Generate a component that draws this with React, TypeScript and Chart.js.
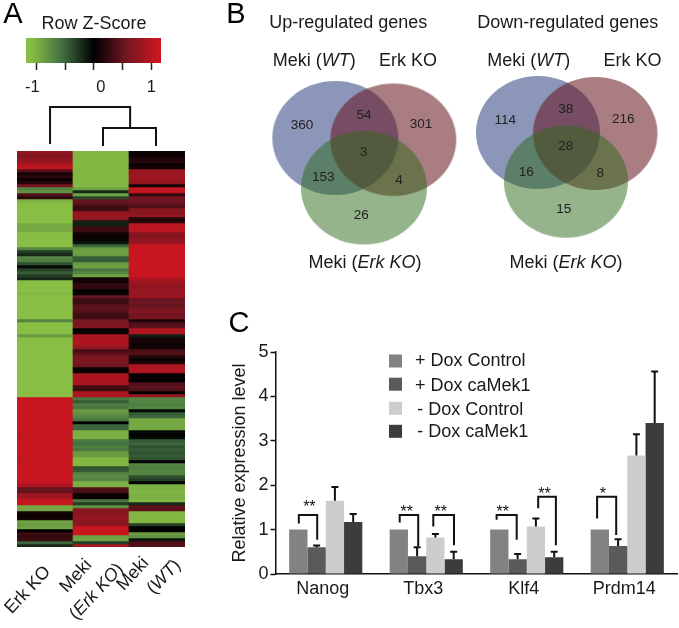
import React, { useEffect, useRef } from "react";
import { Chart, registerables } from "chart.js";

Chart.register(...registerables);

const W = 679;
const H = 628;
const FONT = '"Liberation Sans", Arial, sans-serif';

// ---------- Heatmap ----------
const HEAT_COLUMNS = ["Erk KO", "Meki (Erk KO)", "Meki (WT)"];
const ERK_KO = [
  0.75, 0.65, 0.75, 0.8, 0.95, 1.05, 0.45, 0.1, 0.2, 0.05, 0.2, 0.6, -0.7, -0.8, 0.4, 0.2,
  -1.0, -1.1, -1.1, -1.1, -1.1, -1.1, -1.1, -1.1, -0.95, -0.95, -0.95, -1.1, -1.1, -1.1, -1.1, -1.1,
  -0.7, -0.3, -0.2, -0.7, -0.65, -0.4, -0.05, -0.3, -0.45, -0.3, -0.2,
  -1.1, -1.1, -1.1, -1.1, -1.05, -1.1, -1.1, -1.1, -1.1, -1.1, -1.1, -1.1, -1.1,
  -0.7, -1.1, -1.1, -1.1, -1.1, -0.85,
  -1.1, -1.1, -1.1, -1.1, -1.1, -1.1, -1.1, -1.1, -1.1, -1.1, -1.1, -1.1, -1.1, -1.1, -1.1, -1.1, -1.1, -1.1, -1.1, -1.1,
  1.15, 1.15, 1.1, 1.15, 1.15, 1.1, 1.15, 1.15, 1.15, 1.1, 1.15, 1.15, 1.05, 1.1, 1.15, 1.15, 1.1, 1.15, 1.15, 1.15, 1.05, 1.1, 1.15, 1.15, 1.15, 1.1, 1.15, 1.15, 1.05, 0.9,
  0.5, 0.5, 0.85, 0.85, 1.1, 1.1, -0.95, -0.95, 0.1, 0.05, 0.1, -0.9, -0.85, -0.9, 0, 0.3, 0.25, 0.3, -0.5, -0.2,
];
const MEKI_ERK_KO = [
  -1.05, -1.05, -1.05, -1.05, -1.05, -1.05, -1.05, -1.05, -1.05, -1.05, -1.05, -1.05,
  -0.9, -0.2, -0.9, -0.35, 0.5, 0.45, 0.3, 0.3, 0.8, 0.8, 0.75, -0.15, -0.15, 0.3, 0.3, 0.1, 0.05, 0.05, -0.1, -0.5,
  -0.85, -0.9, -0.85, -0.45, -0.45, -0.85, -0.9, -0.6, -0.7, -0.9, 0.1, 0.1, 0.25, 0.25, 0, 0.05, 0.5, 0.3, 0.3,
  0.45, 0.45, 0.4, 0.3, 0.3, 0.6, 0.6, 0.65, 0, 0.05, 0.9, 0.9, 0.95, 0.9, 0.75, 0.35, 0.45, 0.6, 0.65, 0.6, 0.55,
  0.05, 0.05, 0.9, 0.95, 0.9, 0.9, 0.35, 0.3, 0.95, 0.95,
  -0.6, -0.45, -0.65, -0.6, -0.85, -0.8, -0.7, -0.6, 0, -0.5, -0.5, -1.0, -1.0, -1.0, -0.6, -0.55, -0.65, -0.6,
  -0.85, -0.85, -1.05, -1.05, -1.05, -0.4, -0.45, -0.7, -0.75, -0.7, -1.0, -1.0,
  0.4, 0.35, 0.05, 0.05, -0.6, -0.3, -0.8, 0.7, 0.7, 0.75, 0.75, 0.7, 0.75, 1.1, 1.1, 1.1, -0.9, -0.9, -0.3, 0.9,
];
const MEKI_WT = [
  0.05, 0.05, 0.15, 0.2, 0.05, 0.1, 0.8, 0.8, 0.85, 0.8, 0.75, 0.1, 1.05, 1.05, 0.25, 0.55, 0.55, 0.5, 0.4,
  0.7, 0.7, 0.75, 0.15, 0.2, 1.0, 1.05, 1.0, 0.7, 0.7, 0.75, 0.8,
  1.15, 1.15, 1.15, 1.15, 1.15, 1.15, 1.15, 1.15, 1.15, 1.15, 1.15,
  0.95, 0.85, 0.75, 0.75, 0.8, 0.75, 0.8, 0.5, 0.55, 0.5, 0.6, 0.65, 0.55, 0.6, 0.15, 0.4, 0.45, 0.95, 0.95,
  -0.15, 0.1, 0.1, 0.05, 0.1, 0.35, 0.4, 0.15, 0.05, 0.15, 0.9, 0.95, 0.95, 0, 0.05, 0, 0.4, 0.45, 0.4, 0, 0.8,
  -0.7, -0.7, -0.65, -0.7, -0.05, -0.45, -0.5, -0.95, -0.95, -0.95, -0.95, -0.05, 0, -0.05,
  -0.45, -0.5, -0.4, -0.45, -0.4, -0.45, -0.4, 0, -0.7, -0.65, -0.7, -0.7, -0.4, -0.3, 0,
  -1.0, -1.0, -1.05, -1.0, -1.0, -1.05, -0.2, 0.45, 0.45, -1.05, -1.05, -1.05, -1.05, -0.3, 0, 0, -0.85, -0.8, -0.1, 0.4, 0.4,
];
const COLORBAR_RANGE = [-1.18, 1.17];
const COLORBAR_LABELS = [-1, 0, 1];
const DENDRO_TOP = [[0.59, 0.12], [0.59, 0.86], [2.02, 0.86], [2.02, 0.44]];
const DENDRO_INNER = [[1.536, 0.08], [1.536, 0.44], [2.482, 0.44], [2.482, 0.08]];
const ROTATED_LABELS: [string, string | null, number, number][] = [
  ["Erk KO", null, 28, 590],
  ["Meki", null, 76, 576],
  ["", "Erk KO", 96.7, 591.7],
  ["Meki", null, 133, 574],
  ["", "WT", 164, 577],
];

// ---------- Venn ----------
const VENN_SETS = ["Meki (WT)", "Erk KO", "Meki (Erk KO)"];
const VENN_COLORS = ["rgba(45,64,127,0.55)", "rgba(100,18,27,0.55)", "rgba(46,106,26,0.5)"];
const UP_SETS = [
  [75.3, 68, 63, 57],
  [133.3, 69.7, 63, 56.3],
  [104, 117.7, 63, 56.7],
];
const DOWN_SETS = [
  [68, 62.5, 62, 56.5],
  [125.2, 63.5, 62.2, 56.5],
  [96, 111.7, 62, 56],
];
const UP_COUNTS = [360, 54, 301, 3, 153, 4, 26];
const DOWN_COUNTS = [114, 38, 216, 28, 16, 8, 15];
const UP_COUNT_AT = [[42, 55.7], [104, 45], [161, 54.3], [103.7, 82.7], [63.3, 107.7], [139, 110], [101.3, 145.3]];
const DOWN_COUNT_AT = [[35.3, 50.3], [95.7, 39.3], [153.3, 49], [95.7, 76.7], [56.3, 102], [130.3, 103.3], [93.7, 139.3]];

// ---------- Bars ----------
const GENES = ["Nanog", "Tbx3", "Klf4", "Prdm14"];
const SERIES = ["+ Dox Control", "+ Dox caMek1", "- Dox Control", "- Dox caMek1"];
const SERIES_COLORS = ["#828282", "#5a5a5a", "#cdcdcd", "#3c3c3c"];
const PLUS_CONTROL = [1, 1, 1, 1];
const PLUS_CAMEK = [0.6, 0.4, 0.33, 0.63];
const MINUS_CONTROL = [1.65, 0.82, 1.07, 2.67];
const MINUS_CAMEK = [1.17, 0.33, 0.38, 3.4];
const PLUS_CAMEK_TOP = [0.64, 0.6, 0.45, 0.78];
const MINUS_CONTROL_TOP = [1.96, 0.9, 1.25, 3.15];
const MINUS_CAMEK_TOP = [1.35, 0.5, 0.5, 4.56];
// xLeft, xRight, top, leftEnd, rightEnd
const BRACKETS = [
  [0.232, 0.415, 1.33, 1.14, 0.77],
  [1.236, 1.42, 1.33, 1.16, 0.63],
  [1.57, 1.776, 1.33, 1.07, 0.65],
  [2.2, 2.4, 1.33, 1.22, 0.77],
  [2.614, 2.79, 1.74, 1.48, 0.65],
  [3.2, 3.39, 1.74, 1.25, 0.88],
];
const STARS: [string, number, number][] = [
  ["**", 0.337, 1.57],
  ["**", 1.306, 1.44],
  ["**", 1.645, 1.44],
  ["**", 2.26, 1.44],
  ["**", 2.677, 1.855],
  ["*", 3.257, 1.855],
];

// ---------- Helpers ----------
function zColor(z: number) {
  const t = Math.min(1, Math.abs(z) / 1.1);
  const mid = z < 0 ? [66, 112, 66] : [112, 22, 34];
  const end = z < 0 ? [137, 190, 68] : [200, 22, 32];
  const c = [0, 1, 2].map((k) =>
    t < 0.5 ? mid[k] * (t / 0.5) : mid[k] + (end[k] - mid[k]) * ((t - 0.5) / 0.5)
  );
  return `rgb(${Math.round(c[0])},${Math.round(c[1])},${Math.round(c[2])})`;
}

type Run = { t: string; i?: boolean };
function rich(ctx: CanvasRenderingContext2D, runs: Run[], x: number, y: number, size: number, rot = 0, color = "#1a1a1a") {
  ctx.save();
  ctx.translate(x, y);
  ctx.rotate((rot * Math.PI) / 180);
  ctx.fillStyle = color;
  ctx.textBaseline = "middle";
  ctx.textAlign = "left";
  const f = (i?: boolean) => `${i ? "italic " : ""}${size}px ${FONT}`;
  let w = 0;
  for (const r of runs) {
    ctx.font = f(r.i);
    w += ctx.measureText(r.t).width;
  }
  let cx = -w / 2;
  for (const r of runs) {
    ctx.font = f(r.i);
    ctx.fillText(r.t, cx, 0);
    cx += ctx.measureText(r.t).width;
  }
  ctx.restore();
}

function ellipseSprite(rx: number, ry: number, fill: string) {
  const c = document.createElement("canvas");
  c.width = Math.ceil(rx * 2 + 4);
  c.height = Math.ceil(ry * 2 + 4);
  const g = c.getContext("2d")!;
  g.beginPath();
  g.ellipse(c.width / 2, c.height / 2, rx, ry, 0, 0, Math.PI * 2);
  g.fillStyle = fill;
  g.fill();
  return c;
}

const hidden = { display: false };
const base: any = {
  responsive: false,
  animation: false,
  events: [],
  plugins: { legend: hidden, tooltip: { enabled: false }, title: hidden },
};
const pad = (left: number, top: number, right: number, bottom: number) => ({ padding: { left, top, right, bottom } });

function makeCharts(canvases: HTMLCanvasElement[]) {
  const [cBar, cDen, cHeat, cUp, cDown, cBars, cSig] = canvases;
  const charts: Chart[] = [];

  // Colour key
  charts.push(
    new Chart(cBar, {
      type: "bar",
      data: {
        labels: ["z"],
        datasets: [
          {
            data: [COLORBAR_RANGE as any],
            barPercentage: 1,
            categoryPercentage: 1,
            backgroundColor: (c: any) => {
              const a = c.chart.chartArea;
              if (!a) return "#000";
              const g = c.chart.ctx.createLinearGradient(a.left, 0, a.right, 0);
              const span = COLORBAR_RANGE[1] - COLORBAR_RANGE[0];
              for (const z of [-1.1, -0.55, 0, 0.55, 1.1]) {
                g.addColorStop((z - COLORBAR_RANGE[0]) / span, zColor(z));
              }
              return g;
            },
          },
        ],
      },
      options: {
        ...base,
        indexAxis: "y",
        layout: pad(26, 38, 518, 0),
        scales: {
          y: { display: false },
          x: {
            type: "linear",
            min: COLORBAR_RANGE[0],
            max: COLORBAR_RANGE[1],
            afterFit: (s: any) => (s.height = H - 63),
            border: { display: false },
            grid: { drawOnChartArea: false, tickLength: 7, tickColor: "#222", tickWidth: 1.5 },
            ticks: { stepSize: 0.5, includeBounds: false, maxRotation: 0, callback: () => "" },
          },
        },
      },
      plugins: [
        {
          id: "keyText",
          afterDraw(ch: any) {
            const ctx = ch.ctx;
            rich(ctx, [{ t: "A" }], 13, 15, 29, 0, "#000");
            rich(ctx, [{ t: "Row Z-Score" }], 94, 24, 18);
            const nudge = [-4, 7, 0];
            COLORBAR_LABELS.forEach((v, i) => {
              rich(ctx, [{ t: String(v) }], ch.scales.x.getPixelForValue(v) + nudge[i], 87, 16.5);
            });
          },
        },
      ],
    } as any)
  );

  // Dendrogram
  const dendro = (pts: number[][]) => ({
    data: pts.map(([x, y]) => ({ x, y })),
    showLine: true,
    borderColor: "#111",
    borderWidth: 2,
    pointRadius: 0,
    tension: 0,
    clip: false,
  });
  charts.push(
    new Chart(cDen, {
      type: "scatter",
      data: { datasets: [dendro(DENDRO_TOP), dendro(DENDRO_INNER)] },
      options: {
        ...base,
        layout: pad(17, 100, 494, 478),
        scales: {
          x: { display: false, type: "linear", min: 0, max: 3 },
          y: { display: false, type: "linear", min: 0, max: 1 },
        },
      },
    } as any)
  );

  // Heatmap
  const rows = ERK_KO.map((v, i) => ({
    data: [1, 1, 1],
    stack: "rows",
    backgroundColor: [zColor(v), zColor(MEKI_ERK_KO[i] ?? 0), zColor(MEKI_WT[i] ?? 0)],
    barPercentage: 1,
    categoryPercentage: 1,
    borderWidth: 0,
  }));
  charts.push(
    new Chart(cHeat, {
      type: "bar",
      data: { labels: HEAT_COLUMNS, datasets: rows },
      options: {
        ...base,
        layout: pad(17, 151, 494, 81),
        scales: {
          x: { display: false, stacked: true },
          y: { display: false, stacked: true, reverse: true, min: 0, max: ERK_KO.length },
        },
      },
    } as any)
  );

  // Venns
  const venn = (
    canvas: HTMLCanvasElement,
    sets: number[][],
    counts: number[],
    at: number[][],
    left: number,
    labels: (ctx: CanvasRenderingContext2D) => void
  ) =>
    new Chart(canvas, {
      type: "scatter",
      data: {
        datasets: [
          ...sets.map(([x, y, rx, ry], i) => ({
            label: VENN_SETS[i],
            data: [{ x, y }],
            pointStyle: ellipseSprite(rx, ry, VENN_COLORS[i]),
            pointRadius: 5,
            clip: false,
            order: 3 - i,
          })),
          {
            label: "counts",
            data: at.map(([x, y], i) => ({ x, y, n: counts[i] })),
            pointRadius: 0,
            order: 0,
          },
        ],
      },
      options: {
        ...base,
        layout: pad(left, 70, W - left - 200, 378),
        scales: {
          x: { display: false, type: "linear", min: 0, max: 200 },
          y: { display: false, type: "linear", min: 0, max: 180, reverse: true },
        },
      },
      plugins: [
        {
          id: "vennText",
          afterDatasetsDraw(ch: any) {
            const ctx = ch.ctx;
            for (const p of ch.data.datasets[3].data) {
              rich(ctx, [{ t: String(p.n) }], ch.scales.x.getPixelForValue(p.x), ch.scales.y.getPixelForValue(p.y), 13.6, 0, "#222");
            }
            labels(ctx);
          },
        },
      ],
    } as any);

  const wt: Run[] = [{ t: "Meki (" }, { t: "WT", i: true }, { t: ")" }];
  const ek: Run[] = [{ t: "Meki (" }, { t: "Erk KO", i: true }, { t: ")" }];
  charts.push(
    venn(cUp, UP_SETS, UP_COUNTS, UP_COUNT_AT, 260, (ctx) => {
      rich(ctx, [{ t: "B" }], 236, 15, 29, 0, "#000");
      rich(ctx, [{ t: "Up-regulated genes" }], 348.3, 22.7, 18);
      rich(ctx, wt, 314.3, 60.7, 18);
      rich(ctx, [{ t: "Erk KO" }], 408, 60.7, 18);
      rich(ctx, ek, 365, 262.7, 18);
    })
  );
  charts.push(
    venn(cDown, DOWN_SETS, DOWN_COUNTS, DOWN_COUNT_AT, 470, (ctx) => {
      rich(ctx, [{ t: "Down-regulated genes" }], 567.8, 22.7, 18);
      rich(ctx, wt, 528.7, 60.7, 18);
      rich(ctx, [{ t: "Erk KO" }], 632.5, 60.7, 18);
      rich(ctx, ek, 566, 262.7, 18);
    })
  );

  // Bars
  const series = [PLUS_CONTROL, PLUS_CAMEK, MINUS_CONTROL, MINUS_CAMEK];
  const tops: (number[] | null)[] = [null, PLUS_CAMEK_TOP, MINUS_CONTROL_TOP, MINUS_CAMEK_TOP];
  const barSets = series.map((data, i) => ({
    label: SERIES[i],
    data,
    backgroundColor: SERIES_COLORS[i],
    barPercentage: 1,
    categoryPercentage: 0.728,
  }));
  charts.push(
    new Chart(cBars, {
      type: "bar",
      data: { labels: GENES, datasets: barSets },
      options: {
        ...base,
        layout: pad(229, 352, 1.5, 0),
        scales: {
          x: {
            type: "category",
            offset: true,
            afterFit: (s: any) => (s.height = H - 574),
            border: { display: true, color: "#111", width: 1.5 },
            grid: { display: true, drawOnChartArea: false, drawTicks: false },
            ticks: { padding: 4, labelOffset: -3, color: "#1a1a1a", font: { family: FONT, size: 18 }, maxRotation: 0, autoSkip: false },
          },
          y: {
            min: 0,
            max: 5,
            afterFit: (s: any) => (s.width = 46.5),
            border: { display: true, color: "#111", width: 1.5 },
            grid: { drawOnChartArea: false, tickLength: 5, tickColor: "#111", tickWidth: 1.5 },
            title: {
              display: true,
              text: "Relative expression level",
              color: "#1a1a1a",
              font: { family: FONT, size: 18 },
              padding: 0,
            },
            ticks: { stepSize: 1, padding: 2, color: "#1a1a1a", font: { family: FONT, size: 18 } },
          },
        },
      },
      plugins: [
        {
          id: "barExtras",
          afterDatasetsDraw(ch: any) {
            const ctx = ch.ctx;
            const y = ch.scales.y;
            ctx.save();
            ctx.strokeStyle = "#111";
            ctx.lineWidth = 2;
            tops.forEach((t, di) => {
              if (!t) return;
              ch.getDatasetMeta(di).data.forEach((bar: any, i: number) => {
                const yt = y.getPixelForValue(t[i]);
                ctx.beginPath();
                ctx.moveTo(bar.x, bar.y);
                ctx.lineTo(bar.x, yt);
                ctx.moveTo(bar.x - 3.5, yt);
                ctx.lineTo(bar.x + 3.5, yt);
                ctx.stroke();
              });
            });
            ctx.restore();
            const swatchY = [361, 384.2, 408.3, 431.3];
            const textY = [361, 385.7, 410, 431.7];
            const textX = [415, 415, 417.3, 417.3];
            SERIES.forEach((name, i) => {
              ctx.fillStyle = SERIES_COLORS[i];
              ctx.fillRect(389, swatchY[i] - 6.5, 13, 13);
              ctx.save();
              ctx.fillStyle = "#1a1a1a";
              ctx.font = `18px ${FONT}`;
              ctx.textBaseline = "middle";
              ctx.fillText(name, textX[i], textY[i]);
              ctx.restore();
            });
            rich(ctx, [{ t: "C" }], 239, 323.5, 29, 0, "#000");
          },
        },
      ],
    } as any)
  );

  // Significance brackets (same plot frame as the bars)
  charts.push(
    new Chart(cSig, {
      type: "scatter",
      data: {
        datasets: BRACKETS.map(([xl, xr, top, le, re]) => ({
          data: [
            { x: xl, y: le },
            { x: xl, y: top },
            { x: xr, y: top },
            { x: xr, y: re },
          ],
          showLine: true,
          borderColor: "#111",
          borderWidth: 2,
          pointRadius: 0,
          tension: 0,
          clip: false,
        })),
      },
      options: {
        ...base,
        layout: pad(275.5, 352, 1.5, 54),
        scales: {
          x: { display: false, type: "linear", min: 0, max: GENES.length },
          y: { display: false, type: "linear", min: 0, max: 5 },
        },
      },
      plugins: [
        {
          id: "overlayText",
          afterDatasetsDraw(ch: any) {
            for (const [s, x, v] of STARS) {
              rich(ch.ctx, [{ t: s }], ch.scales.x.getPixelForValue(x), ch.scales.y.getPixelForValue(v) + 3, 16, 0, "#111");
            }
            for (const [plain, ital, x, y] of ROTATED_LABELS) {
              const runs: Run[] = ital ? [{ t: "(" }, { t: ital, i: true }, { t: ")" }] : [{ t: plain }];
              rich(ch.ctx, runs, x, y, 18, -47);
            }
          },
        },
      ],
    } as any)
  );
  return charts;
}

export default function App() {
  const refs = useRef<(HTMLCanvasElement | null)[]>([]);
  useEffect(() => {
    const charts = makeCharts(refs.current as HTMLCanvasElement[]);
    return () => charts.forEach((c) => c.destroy());
  }, []);
  const layer = { position: "absolute", left: 0, top: 0, width: W, height: H } as const;
  return (
    <div style={{ ...layer, background: "#fff", overflow: "hidden" }}>
      {[0, 1, 2, 3, 4, 5, 6].map((i) => (
        <canvas
          key={i}
          ref={(el) => {
            refs.current[i] = el;
          }}
          width={W}
          height={H}
          style={{ ...layer, filter: i === 2 ? "blur(0.7px)" : "none" }}
        />
      ))}
    </div>
  );
}
